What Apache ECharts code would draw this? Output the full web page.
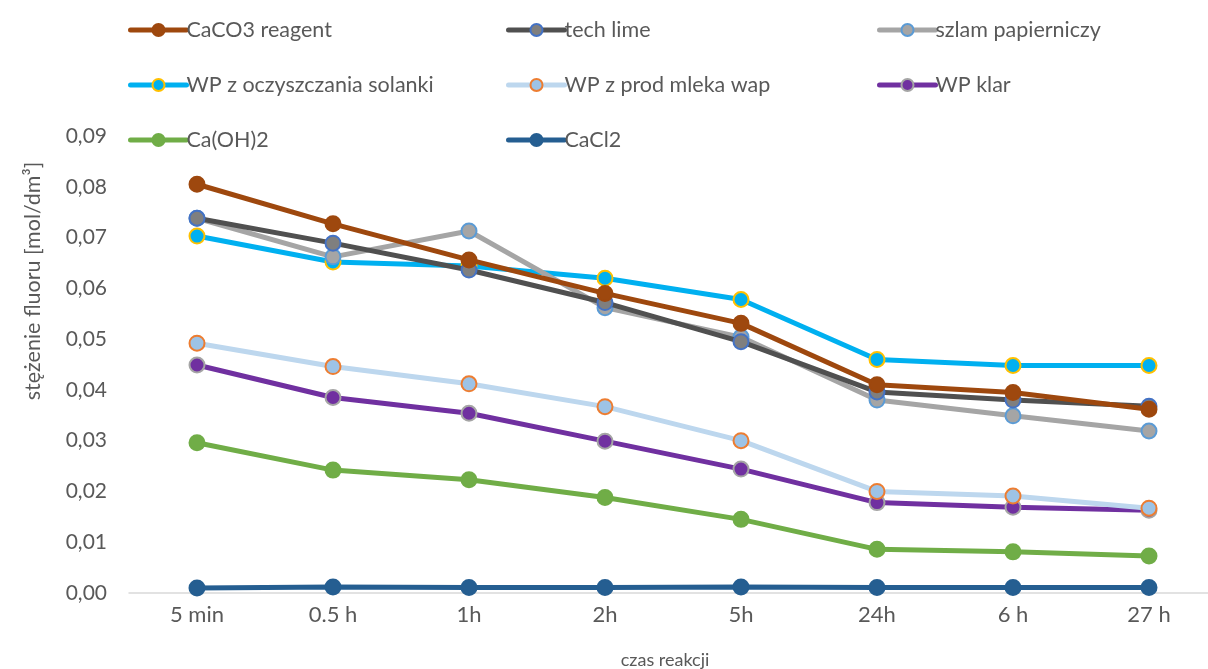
<!DOCTYPE html>
<html>
<head>
<meta charset="utf-8">
<script src="https://cdn.jsdelivr.net/npm/echarts@6/dist/echarts.min.js"></script>
<style>
  html, body { margin: 0; padding: 0; background: #fff; }
  #chart { width: 1208px; height: 669px; }
</style>
</head>
<body>
<div id="chart"></div>
<script>
// Reaction time points
const categories = ['5 min', '0.5 h', '1h', '2h', '5h', '24h', '6 h', '27 h'];

// Fluoride concentration [mol/dm3] per agent
const caco3Reagent = [0.0805, 0.0727, 0.0656, 0.0590, 0.0531, 0.0410, 0.0395, 0.0362];
const techLime     = [0.0738, 0.0689, 0.0636, 0.0572, 0.0495, 0.0396, 0.0380, 0.0368];
const szlam        = [0.0738, 0.0662, 0.0713, 0.0562, 0.0504, 0.0380, 0.0349, 0.0319];
const wpSolanka    = [0.0703, 0.0652, 0.0644, 0.0620, 0.0578, 0.0460, 0.0448, 0.0448];
const wpMleko      = [0.0492, 0.0446, 0.0412, 0.0367, 0.0300, 0.0200, 0.0191, 0.0167];
const wpKlar       = [0.0449, 0.0385, 0.0354, 0.0299, 0.0244, 0.0178, 0.0169, 0.0163];
const caOH2        = [0.0296, 0.0242, 0.0223, 0.0188, 0.0145, 0.0086, 0.0081, 0.0073];
const cacl2        = [0.0010, 0.0012, 0.0011, 0.0011, 0.0012, 0.0011, 0.0011, 0.0011];

const seriesNames = ['CaCO3 reagent', 'tech lime', 'szlam papierniczy',
  'WP z oczyszczania solanki', 'WP z prod mleka wap', 'WP klar', 'Ca(OH)2', 'CaCl2'];
const seriesData = [caco3Reagent, techLime, szlam, wpSolanka, wpMleko, wpKlar, caOH2, cacl2];

// Y axis ticks
const yMin = 0, yMax = 0.09, yStep = 0.01;

// line colour, marker fill, marker border
const styles = [
  ['#9E480E', '#9E480E', '#9E480E'],
  ['#505050', '#7F7F7F', '#4472C4'],
  ['#A5A5A5', '#A5A5A5', '#5B9BD5'],
  ['#00B0F0', '#00B0F0', '#FFC000'],
  ['#BDD7EE', '#9DC3E6', '#ED7D31'],
  ['#7030A0', '#7030A0', '#A5A5A5'],
  ['#70AD47', '#70AD47', '#70AD47'],
  ['#255E91', '#255E91', '#255E91']
];

const FONT = 'Lato, "Liberation Sans", sans-serif';
const TXT = '#595959';

const legendCols = [128, 506, 877];
const legendRows = [19, 74, 129];

const legends = seriesNames.map((name, i) => ({
  data: [name],
  left: legendCols[i % 3],
  top: legendRows[Math.floor(i / 3)],
  itemWidth: 56,
  itemHeight: 15,
  itemGap: 0,
  padding: 0,
  selectedMode: false,
  lineStyle: { width: 5, cap: 'round' },
  textStyle: { color: TXT, fontSize: 21.5, fontFamily: FONT, padding: [0, 0, 0, -5] }
}));

const series = seriesNames.map((name, i) => ({
  name: name,
  type: 'line',
  data: seriesData[i],
  symbol: 'circle',
  symbolSize: 15,
  lineStyle: { color: styles[i][0], width: 5, cap: 'round' },
  itemStyle: { color: styles[i][1], borderColor: styles[i][2], borderWidth: 2 },
  emphasis: { disabled: true },
  z: 10 - i
}));

const chart = echarts.init(document.getElementById('chart'), null, { renderer: 'canvas' });
chart.setOption({
  animation: false,
  backgroundColor: '#fff',
  legend: legends,
  grid: { left: 129, width: 1088, top: 136, bottom: 76, outerBoundsMode: 'none', containLabel: false },
  xAxis: {
    type: 'category',
    data: categories,
    boundaryGap: true,
    axisLine: { lineStyle: { color: '#D9D9D9', width: 1.5 } },
    axisTick: { show: false },
    axisLabel: { color: TXT, fontSize: 22, fontFamily: FONT, margin: 11 },
    name: 'czas reakcji',
    nameLocation: 'middle',
    nameGap: 58,
    nameTextStyle: { color: TXT, fontSize: 18, fontFamily: FONT, padding: [0, 16, 0, 0] }
  },
  yAxis: {
    type: 'value',
    min: yMin, max: yMax, interval: yStep,
    axisLine: { show: false },
    axisTick: { show: false },
    splitLine: { show: false },
    axisLabel: {
      color: TXT, fontSize: 21, fontFamily: FONT, margin: 22,
      formatter: v => v.toFixed(2).replace('.', ',')
    }
  },
  graphic: [{
    type: 'text',
    x: 33,
    y: 281,
    rotation: Math.PI / 2,
    style: {
      text: 'stężenie fluoru [mol/dm³]',
      fill: TXT,
      font: '21.5px ' + FONT,
      align: 'center',
      verticalAlign: 'middle'
    }
  }],
  series: series
});
</script>
</body>
</html>
